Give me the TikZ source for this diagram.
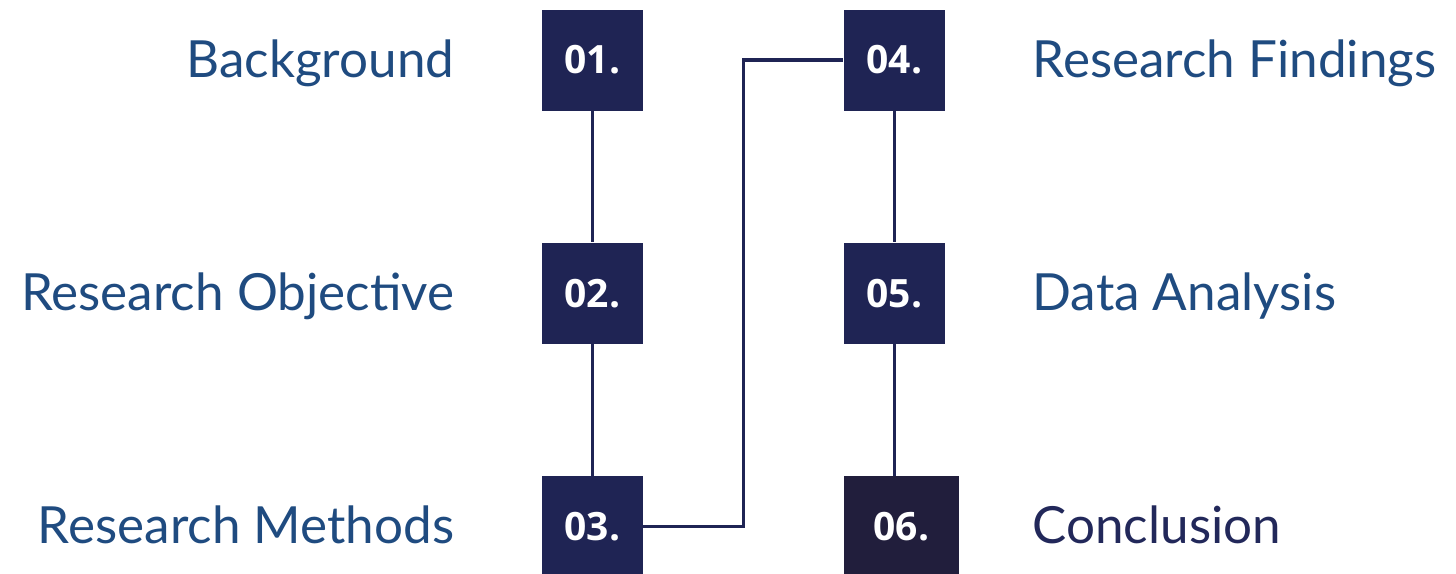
\documentclass[tikz,border=0pt]{standalone}
\usepackage{fontspec}
\setmainfont{Lato}
\newfontfamily\numfont{Open Sans}
\usepackage{tikz}
\usetikzlibrary{calc,positioning}
\definecolor{navybox}{HTML}{1F2454}
\definecolor{darkbox}{HTML}{211E3C}
\definecolor{labelblue}{HTML}{1F4B80}
\definecolor{labelnavy}{HTML}{22285A}

\begin{document}
\begin{tikzpicture}[
    numbox/.style={rectangle, fill=navybox, minimum width=50.5pt, minimum height=50.5pt, inner sep=0pt, text=white, font=\numfont\bfseries\fontsize{19.5}{20}\selectfont},
    steplabel/.style={text=labelblue, inner sep=0pt, font=\fontsize{25.6}{28}\selectfont},
    linkline/.style={navybox, line width=1.75pt}
  ]
  \useasboundingbox (0,0) rectangle (728pt,-286.5pt);

  % Draw the left column of numbered boxes
  \node[numbox] (N1) at (296.25pt,-30pt) {01.};
  \node[numbox, below=65.75pt of N1] (N2) {02.};
  \node[numbox, below=65.75pt of N2] (N3) {03.};

  % Draw the right column of numbered boxes
  \node[numbox, right=100pt of N1] (N4) {04.};
  \node[numbox, below=65.75pt of N4] (N5) {05.};
  \node[numbox, below=65.75pt of N5.south west, anchor=north west, minimum width=57.5pt, fill=darkbox] (N6) {06.};

  % Draw the labels beside the boxes
  \node[steplabel, anchor=base east] (Background) at ($(N1.west)+(-43.5pt,-8.5pt)$) {Background};
  \node[steplabel, anchor=base east] (Objective) at ($(N2.west)+(-43.5pt,-8.5pt)$) {Research Objective};
  \node[steplabel, anchor=base east] (Methods) at ($(N3.west)+(-43.5pt,-8.5pt)$) {Research Methods};
  \node[steplabel, anchor=base west] (Findings) at ($(N4.east)+(43.5pt,-8.5pt)$) {Research Findings};
  \node[steplabel, anchor=base west] (Analysis) at ($(N5.east)+(43.5pt,-8.5pt)$) {Data Analysis};
  \node[steplabel, anchor=base west, text=labelnavy] (Conclusion) at ($(N6.east)+(36.5pt,-8.5pt)$) {Conclusion};

  % Draw the connecting lines
  \draw[linkline] (N1) -- (N2);
  \draw[linkline] (N2) -- (N3);
  \draw[linkline] (N3.east) -| ($(N3.east)!0.5!(N4.west)$) |- (N4.west);
  \draw[linkline] (N4) -- (N5);
  \draw[linkline] (N5.south) -- (N5.south |- N6.north);
\end{tikzpicture}
\end{document}
